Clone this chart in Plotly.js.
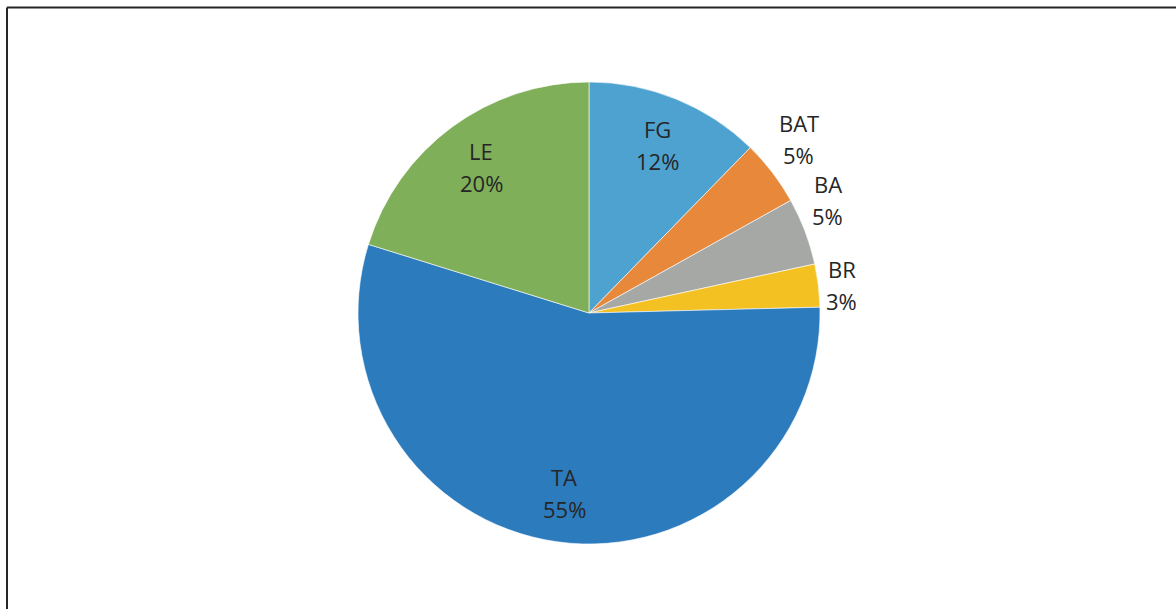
<!DOCTYPE html>
<html>
<head>
<meta charset="utf-8">
<script src="https://cdn.plot.ly/plotly-3.0.1.min.js"></script>
<style>
html,body{margin:0;padding:0;background:#fff;}
#chart{width:1176px;height:609px;}
</style>
</head>
<body>
<div id="chart"></div>
<script>
// Data
const categories = ['FG', 'BAT', 'BA', 'BR', 'TA', 'LE'];
const values = [12.3, 4.6, 4.7, 3.0, 55.2, 20.2];
const colors = ['#4EA2D0', '#E7883B', '#A6A8A6', '#F3C122', '#2C7BBD', '#7FAF58'];
const labelPlacement = ['inside', 'outside', 'outside', 'outside', 'inside', 'inside'];

const W = 1176, H = 609;
const cx = 589, cy = 313, R = 231;
const FONT = 'Open Sans, DejaVu Sans, sans-serif';
const FS = 22;
const TXT = '#262626';

const total = values.reduce((a, b) => a + b, 0);
const canvas = document.createElement('canvas');
const ctx = canvas.getContext('2d');
ctx.font = FS + 'px "Open Sans"';

const annotations = [];
function addLine(text, px, py) {
  annotations.push({
    text: text, xref: 'paper', yref: 'paper',
    x: px / W, y: 1 - py / H, xanchor: 'center', yanchor: 'middle',
    showarrow: false, font: {family: FONT, size: FS, color: TXT}
  });
}
const GAP = 16;
let cum = 0;
values.forEach((v, i) => {
  const frac = v / total;
  const mid = (cum + frac / 2) * 2 * Math.PI;
  cum += frac;
  const pct = Math.round(frac * 100) + '%';
  const lab = categories[i];
  const s = Math.sin(mid), c = Math.cos(mid);
  if (labelPlacement[i] === 'inside') {
    const r = 0.785 * R;
    const px = cx + r * s, py = cy - r * c;
    addLine(lab, px, py - GAP);
    addLine(pct, px, py + GAP);
  } else {
    const r = R + 8;
    const px = cx + r * s, py = cy - r * c;
    const w = Math.max(ctx.measureText(lab).width, ctx.measureText(pct).width);
    const xc = px + w / 2;
    if (c > 0.2) {
      addLine(pct, xc, py - 13);
      addLine(lab, xc, py - 45);
    } else {
      addLine(lab, xc, py - GAP);
      addLine(pct, xc, py + GAP);
    }
  }
});

const trace = {
  type: 'pie',
  labels: categories,
  values: values,
  sort: false,
  direction: 'clockwise',
  rotation: 0,
  textinfo: 'none',
  hoverinfo: 'label+percent',
  marker: {colors: colors, line: {color: '#ffffff', width: 0.6}},
  domain: {x: [(cx - R) / W, (cx + R) / W], y: [(H - cy - R) / H, (H - cy + R) / H]},
  showlegend: false
};

const layout = {
  width: W, height: H,
  margin: {l: 0, r: 0, t: 0, b: 0},
  paper_bgcolor: '#ffffff',
  showlegend: false,
  annotations: annotations,
  shapes: [
    {type: 'line', xref: 'paper', yref: 'paper', x0: 7 / W, x1: 1, y0: 1 - 7.5 / H, y1: 1 - 7.5 / H, line: {color: '#262626', width: 2}},
    {type: 'line', xref: 'paper', yref: 'paper', x0: 7 / W, x1: 7 / W, y0: 0, y1: 1 - 7.5 / H, line: {color: '#262626', width: 2}}
  ]
};

Plotly.newPlot('chart', [trace], layout, {displayModeBar: false, staticPlot: true});
</script>
</body>
</html>
